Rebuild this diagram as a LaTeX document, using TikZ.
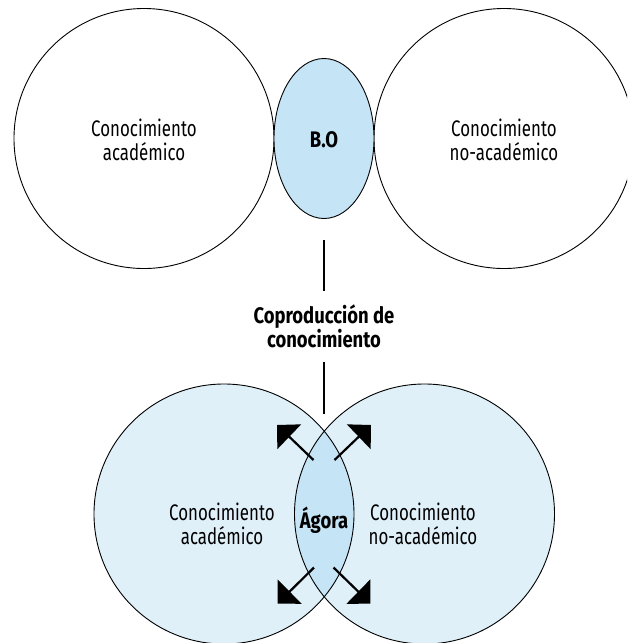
\documentclass[tikz,border=0pt]{standalone}
\usepackage{fontspec}
\setmainfont{Fira Sans}[FakeStretch=0.75, BoldFeatures={FakeStretch=0.82}]
\usetikzlibrary{arrows.meta}
\definecolor{lightfill}{RGB}{223,240,249}
\definecolor{lensfill}{RGB}{197,228,245}
\tikzset{
  outline/.style={draw=black, line width=0.9pt},
  label/.style={align=center, font=\fontsize{22.5}{24}\selectfont, inner sep=0pt},
  boldlabel/.style={label, font=\fontsize{22.5}{24}\selectfont\bfseries},
  link/.style={line width=2.2pt},
  outarrow/.style={line width=2.2pt, -{Triangle[length=17pt, width=34pt]}}
}
\begin{document}
\begin{tikzpicture}[x=1pt, y=-1pt]
\useasboundingbox (0,0) rectangle (627,643);
\clip (0,0) rectangle (627,643);
\fill[white] (0,0) rectangle (627,643);
% top row
\draw[outline] (144,138.5) circle[radius=130pt];
\draw[outline] (504,138.5) circle[radius=130pt];
\draw[outline, fill=lensfill] (324,138.5) ellipse[x radius=50pt, y radius=80pt];
\node[label] (topleft) at (144,140) {Conocimiento\\académico};
\node[label] (topright) at (504,140) {Conocimiento\\no-académico};
\node[boldlabel] (bo) at (324,140) {B.O};
% middle
\node[boldlabel] (copro) at (324,326) {Coproducción de\\conocimiento};
\coordinate (l1a) at (324,240);
\coordinate (l1b) at (324,291);
\coordinate (l2a) at (324,362);
\coordinate (l2b) at (324,414);
\draw[link] (l1a) -- (l1b);
\draw[link] (l2a) -- (l2b);
% bottom row
\fill[lightfill] (224,514) circle[radius=130pt];
\fill[lightfill] (424.5,514) circle[radius=130pt];
\begin{scope}
  \clip (224,514) circle[radius=130pt];
  \fill[lensfill] (424.5,514) circle[radius=130pt];
\end{scope}
\draw[outline] (224,514) circle[radius=130pt];
\draw[outline] (424.5,514) circle[radius=130pt];
\node[label] (botleft) at (222,524) {Conocimiento\\académico};
\node[label] (botright) at (423,524) {Conocimiento\\no-académico};
\node[boldlabel] (agora) at (324,520) {Ágora};
% arrows
\coordinate (ulS) at (313.5,460);
\coordinate (ulT) at (277,425);
\coordinate (urS) at (334.5,460);
\coordinate (urT) at (371,425);
\coordinate (llS) at (314,567.5);
\coordinate (llT) at (277.5,603.5);
\coordinate (lrS) at (333.5,567.5);
\coordinate (lrT) at (370.5,603.5);
\draw[outarrow] (ulS) -- (ulT);
\draw[outarrow] (urS) -- (urT);
\draw[outarrow] (llS) -- (llT);
\draw[outarrow] (lrS) -- (lrT);
\end{tikzpicture}
\end{document}
